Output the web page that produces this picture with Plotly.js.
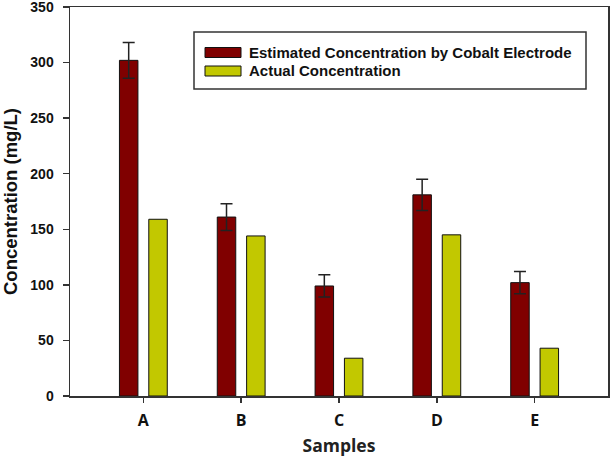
<!DOCTYPE html>
<html>
<head>
<meta charset="utf-8">
<script src="https://cdn.plot.ly/plotly-3.0.1.min.js"></script>
<style>
  html, body { margin: 0; padding: 0; background: #ffffff; }
  #chart { width: 612px; height: 457px; }
</style>
</head>
<body>
<div id="chart"></div>
<script>
// Sample labels and measured concentrations (mg/L)
const samples = ["A", "B", "C", "D", "E"];
const estimated = [302, 161, 99, 181, 102];
const estimatedErr = [16, 12, 10, 14, 10];
const actual = [159, 144, 34, 145, 43];
const seriesNames = ["Estimated Concentration by Cobalt Electrode", "Actual Concentration"];
const seriesColors = ["#800000", "#c2c800"];

const W = 612, H = 457;
const margin = { l: 70, r: 4, t: 7, b: 61 };
const plotW = W - margin.l - margin.r;
const plotH = H - margin.t - margin.b;
// pixel -> paper helpers for the hand-drawn legend box
const px = x => (x - margin.l) / plotW;
const py = y => (H - margin.b - y) / plotH;

const traces = [
  {
    type: "bar",
    x: samples,
    y: estimated,
    name: seriesNames[0],
    marker: { color: seriesColors[0], line: { color: "#111111", width: 1 } },
    error_y: { type: "data", array: estimatedErr, visible: true, color: "#222222", thickness: 1.5, width: 6 }
  },
  {
    type: "bar",
    x: samples,
    y: actual,
    name: seriesNames[1],
    marker: { color: seriesColors[1], line: { color: "#111111", width: 1 } }
  }
];

const axisLine = { showline: true, linecolor: "#333333", linewidth: 1.5, mirror: true };

const legendFont = { family: "Liberation Sans, Arial, sans-serif", size: 15, color: "#111111", weight: "bold" };

const shapes = [
  { type: "rect", xref: "paper", yref: "paper", x0: px(194), x1: px(586), y0: py(89), y1: py(32),
    line: { color: "#333333", width: 1.5 }, fillcolor: "#ffffff", layer: "above" },
  { type: "rect", xref: "paper", yref: "paper", x0: px(205), x1: px(241), y0: py(57.5), y1: py(47.5),
    line: { color: "#111111", width: 1 }, fillcolor: seriesColors[0], layer: "above" },
  { type: "rect", xref: "paper", yref: "paper", x0: px(205), x1: px(241), y0: py(76), y1: py(66),
    line: { color: "#111111", width: 1 }, fillcolor: seriesColors[1], layer: "above" }
];

const annotations = [
  { xref: "paper", yref: "paper", x: px(247), y: py(52.5), xanchor: "left", yanchor: "middle",
    text: seriesNames[0], showarrow: false, font: legendFont },
  { xref: "paper", yref: "paper", x: px(247), y: py(71), xanchor: "left", yanchor: "middle",
    text: seriesNames[1], showarrow: false, font: legendFont }
];

const layout = {
  width: W,
  height: H,
  margin: margin,
  paper_bgcolor: "#ffffff",
  plot_bgcolor: "#ffffff",
  showlegend: false,
  barmode: "group",
  bargap: 0.4,
  bargroupgap: 0.37,
  xaxis: Object.assign({
    type: "category",
    range: [-0.75, 4.75],
    ticks: "outside",
    ticklen: 5,
    tickwidth: 1.5,
    tickcolor: "#333333",
    tickfont: { family: "Open Sans, sans-serif", size: 16, color: "#111111", weight: "bold" },
    ticklabelstandoff: 4,
    title: { text: "Samples", font: { family: "Open Sans, sans-serif", size: 17.5, color: "#222222", weight: "bold" }, standoff: 17 },
    showgrid: false,
    zeroline: false,
    automargin: false
  }, axisLine),
  yaxis: Object.assign({
    range: [0, 350],
    tickvals: [0, 50, 100, 150, 200, 250, 300, 350],
    ticks: "outside",
    ticklen: 6,
    tickwidth: 1.5,
    tickcolor: "#333333",
    tickfont: { family: "Liberation Sans, Arial, sans-serif", size: 14, color: "#111111", weight: "bold" },
    ticklabelstandoff: 6,
    ticklabeloverflow: "allow",
    title: { text: "Concentration (mg/L)", font: { family: "Liberation Sans, Arial, sans-serif", size: 18.5, color: "#111111", weight: "bold" }, standoff: 11 },
    showgrid: false,
    zeroline: false,
    automargin: false
  }, axisLine),
  shapes: shapes,
  annotations: annotations
};

Plotly.newPlot("chart", traces, layout, { displayModeBar: false, staticPlot: true });
</script>
</body>
</html>
